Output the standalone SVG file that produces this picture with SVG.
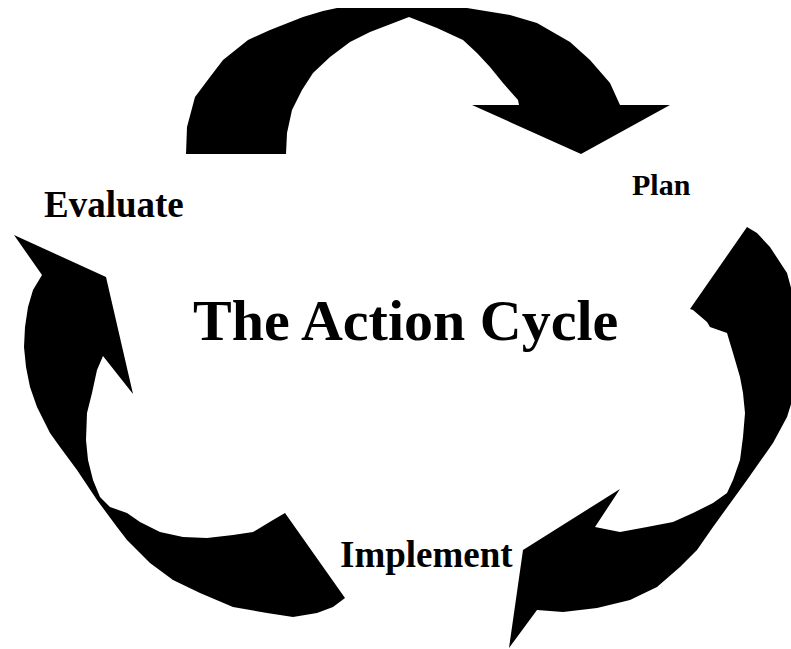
<svg xmlns="http://www.w3.org/2000/svg" width="791" height="649" viewBox="0 0 791 649">
<style>
.arrow{fill:#000;stroke:none}
.lbl{font-family:"Liberation Serif","Times New Roman",serif;font-weight:bold;fill:#000}
</style>
<rect width="791" height="649" fill="#fff"/>
<g id="connectors">
<path id="arrow-top" class="arrow" d="M186,154 L187,127 L195,97 L210,77 L223,60 L248,40 L270,30 L303,17 L323,11 L337,8 L467,8 L510,15 L537,23 L570,42 L590,60 L610,83 L620,105 L670,105 L581,154 L472,105 L519,105 L518,100 L503,83 L490,67 L477,53 L463,40 L437,28 L409,17 L370,32 L350,42 L330,57 L313,73 L302,90 L292,110 L287,133 L286,154 Z"/>
<path id="arrow-right" class="arrow" d="M747,227 L757,233 L770,247 L787,273 L797,310 L800,345 L797,385 L787,417 L773,443 L747,480 L713,527 L697,550 L680,567 L657,587 L630,600 L597,608 L563,612 L537,610 L509,648 L523,550 L620,489 L595,527 L620,532 L647,527 L673,522 L693,513 L713,503 L727,493 L733,480 L740,460 L743,437 L745,413 L743,393 L740,377 L733,353 L727,333 L710,327 L707,322 L693,310 L690,309 Z"/>
<path id="arrow-left" class="arrow" d="M14,235 L106,277 L133,394 L103,356 L97,370 L92,393 L87,413 L86,440 L88,460 L93,480 L100,497 L110,507 L127,513 L140,522 L160,532 L183,537 L207,538 L233,535 L253,532 L273,520 L285,513 L345,598 L333,607 L317,613 L293,617 L267,613 L233,607 L200,593 L173,580 L150,563 L127,540 L117,527 L97,500 L77,470 L60,447 L50,433 L37,407 L30,387 L26,367 L24,347 L25,327 L28,307 L33,290 L42,275 Z"/>
</g>
<g id="node-evaluate"><text class="lbl" x="44" y="217" font-size="37">Evaluate</text></g>
<g id="node-plan"><text class="lbl" x="632" y="195" font-size="30">Plan</text></g>
<g id="node-title"><text class="lbl" x="193" y="340" font-size="58">The Action Cycle</text></g>
<g id="node-implement"><text class="lbl" x="340" y="567" font-size="37">Implement</text></g>
</svg>
